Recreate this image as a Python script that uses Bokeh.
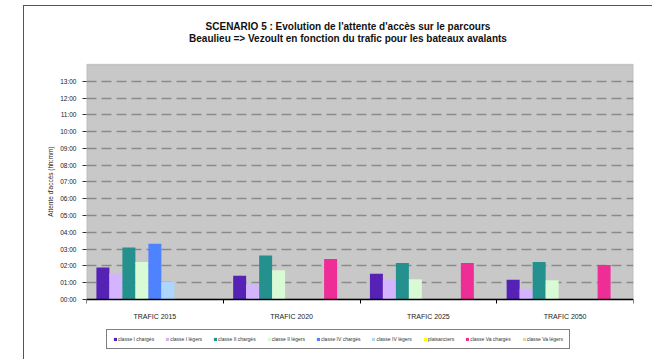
from bokeh.plotting import figure
from bokeh.models import (FixedTicker, Legend, LegendItem, ColumnDataSource, Range1d,
                          InlineStyleSheet, BoxAnnotation, LabelSet, Label, Title)
from bokeh.core.properties import value
from bokeh.embed import file_html
from bokeh.resources import INLINE

categories = ["TRAFIC 2015", "TRAFIC 2020", "TRAFIC 2025", "TRAFIC 2050"]
series_names = ["classe I chargés", "classe I légers", "classe II chargés", "classe II légers",
                "classe IV chargés", "classe IV légers", "plaisanciers",
                "classe Va chargés", "classe Va légers"]
series_colors = ["#5522B5", "#D4B4FF", "#25918E", "#D8FAD4", "#4F82FF", "#ADD6FF",
                 "#FFFF00", "#EE2D96", "#FFCC99"]

# waiting times in hours
classe_I_charges = [1.90, 1.41, 1.52, 1.16]
classe_I_legers = [1.55, 0.88, 1.16, 0.63]
classe_II_charges = [3.09, 2.61, 2.17, 2.23]
classe_II_legers = [2.23, 1.74, 1.20, 1.14]
classe_IV_charges = [3.31, 0.0, 0.0, 0.0]
classe_IV_legers = [1.04, 0.0, 0.0, 0.0]
plaisanciers = [0.0, 0.0, 0.0, 0.0]
classe_Va_charges = [0.0, 2.40, 2.17, 2.05]
classe_Va_legers = [0.0, 0.0, 0.0, 0.0]

series_values = [classe_I_charges, classe_I_legers, classe_II_charges, classe_II_legers,
                 classe_IV_charges, classe_IV_legers, plaisanciers,
                 classe_Va_charges, classe_Va_legers]

y_tick_labels = ["00:00", "01:00", "02:00", "03:00", "04:00", "05:00", "06:00",
                 "07:00", "08:00", "09:00", "10:00", "11:00", "12:00", "13:00"]
y_max = 14

title_line1 = "SCENARIO 5 : Evolution de l'attente d'accès sur le parcours"
title_line2 = "Beaulieu => Vezoult en fonction du trafic pour les bateaux avalants"
y_label = "Attente d'accès (hh:mm)"

FONT = "Liberation Sans"

# the frame holds the title, the grey plot area, the category labels and the legend
p = figure(frame_width=547, frame_height=348, output_backend="svg", toolbar_location=None,
           x_range=Range1d(-0.5, len(categories) - 0.5), y_range=Range1d(-3.29, 17.46),
           min_border_left=62, min_border_right=19, min_border_top=0, min_border_bottom=5)
p.stylesheets = [InlineStyleSheet(css=":host { margin-left: 23px; margin-top: 5px; "
                                      "border-left: 1.5px solid #555555; border-top: 1.5px solid #555555; }")]
p.title.text = ""
p.title.visible = False

p.background_fill_color = "white"
p.border_fill_color = "white"
p.outline_line_color = None

# grey plotting area
p.add_layout(BoxAnnotation(left=-0.5, right=len(categories) - 0.5, bottom=0, top=y_max,
                           fill_color="#C8C8C8", fill_alpha=1.0,
                           line_color="#808080", line_width=1.5, level="image"))

# two-line centred title
center_x = (len(categories) - 1) / 2
for txt, yy in [(title_line1, 16.27), (title_line2, 15.58)]:
    p.add_layout(Label(x=center_x, y=yy, x_offset=-12, text=txt, text_align="center",
                       text_baseline="middle", text_font=FONT, text_font_size="10px",
                       text_font_style="bold", text_color="#111111"))

n = len(series_names)
bw = 0.095
items = []
for s, (name, col, vals) in enumerate(zip(series_names, series_colors, series_values)):
    xs = [g + (s - (n - 1) / 2) * bw for g in range(len(categories))]
    src = ColumnDataSource(dict(x=xs, top=vals))
    r = p.vbar(x="x", top="top", bottom=0, width=bw, source=src,
               fill_color=col, line_color=None)
    items.append(LegendItem(label=name, renderers=[r]))

# grid
p.xgrid.visible = False
p.ygrid.ticker = FixedTicker(ticks=list(range(1, len(y_tick_labels))))
p.ygrid.grid_line_color = "#8A8A8A"
p.ygrid.grid_line_width = 1.5
p.ygrid.grid_line_dash = "10 5"

# x axis drawn at y = 0 with tick marks between categories
xa = p.xaxis[0]
xa.fixed_location = 0
xa.ticker = FixedTicker(ticks=[], minor_ticks=[g - 0.5 for g in range(len(categories) + 1)])
xa.major_tick_out = 0
xa.major_tick_in = 0
xa.minor_tick_out = 4
xa.minor_tick_in = 0
xa.minor_tick_line_color = "black"
xa.axis_line_color = "black"
xa.axis_line_width = 1.5

cat_src = ColumnDataSource(dict(x=list(range(len(categories))), y=[0] * len(categories),
                                text=categories))
p.add_layout(LabelSet(x="x", y="y", text="text", source=cat_src, y_offset=-17,
                      text_align="center", text_baseline="middle",
                      text_font=value(FONT), text_font_size=value("7px"), text_color="#222222"))

# y axis
ya = p.yaxis[0]
ya.ticker = FixedTicker(ticks=list(range(len(y_tick_labels))), minor_ticks=[])
ya.major_label_overrides = {i: t for i, t in enumerate(y_tick_labels)}
ya.major_tick_out = 4
ya.major_tick_in = 0
ya.major_tick_line_color = "#333333"
ya.axis_line_color = None
ya.major_label_text_font = FONT
ya.major_label_text_font_size = "6.5px"
ya.major_label_text_color = "#222222"
ya.major_label_standoff = 6

p.add_layout(Title(text=y_label, align="right", offset=140, standoff=8,
                   text_font=FONT, text_font_size="6.5px", text_font_style="normal",
                   text_color="#222222"), "left")

legend = Legend(items=items, orientation="horizontal", location=(20, 5),
                label_text_font=FONT, label_text_font_size="5px", label_text_color="#333333",
                glyph_width=4, glyph_height=4, label_standoff=1, spacing=11,
                padding=6, margin=0, label_height=6,
                border_line_color="black", border_line_width=1.5,
                background_fill_color="white", background_fill_alpha=1.0)
p.add_layout(legend, "center")

open("out.html", "w").write(file_html(p, INLINE))
